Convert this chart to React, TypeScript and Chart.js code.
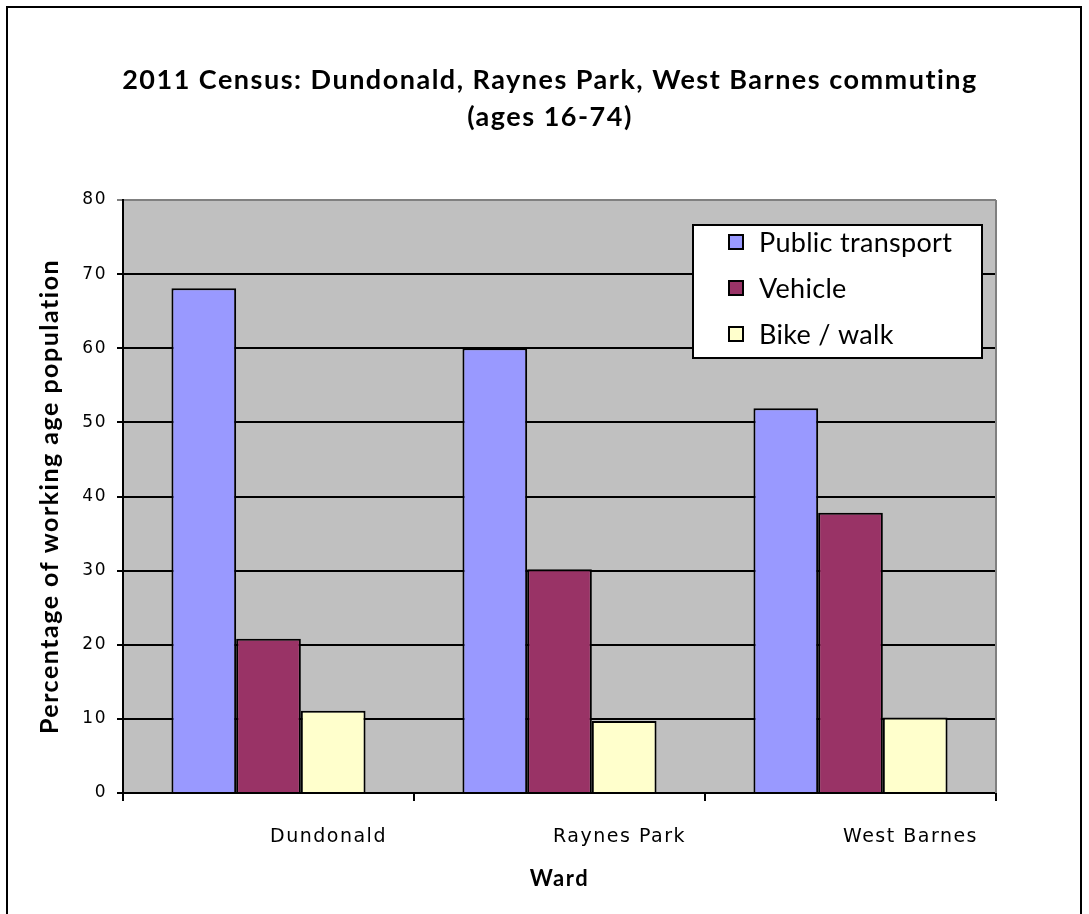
import React, { useEffect, useRef } from "react";
import { Chart, registerables } from "chart.js";

Chart.register(...registerables);

const titleLines = ["2011 Census: Dundonald, Raynes Park, West Barnes commuting", "(ages 16-74)"];
const categories = ["Dundonald", "Raynes Park", "West Barnes"];
const seriesNames = ["Public transport", "Vehicle", "Bike / walk"];
const publicTransport = [68.1, 60.0, 51.9];
const vehicle = [20.8, 30.2, 37.8];
const bikeWalk = [11.1, 9.7, 10.2];
const seriesColors = ["#9999FF", "#993366", "#FFFFCC"];
const yAxisTitle = "Percentage of working age population";
const xAxisTitle = "Ward";

const plotBg = {
  id: "plotBg",
  beforeDraw(chart: any) {
    const { ctx, chartArea } = chart;
    ctx.letterSpacing = "1.5px";
    ctx.save();
    ctx.fillStyle = "#C0C0C0";
    ctx.fillRect(chartArea.left, chartArea.top, chartArea.right - chartArea.left, chartArea.bottom - chartArea.top);
    ctx.restore();
  },
  beforeDatasetsDraw(chart: any) {
    const { ctx, chartArea } = chart;
    ctx.save();
    ctx.strokeStyle = "#808080";
    ctx.lineWidth = 2;
    ctx.beginPath();
    ctx.moveTo(chartArea.right, chartArea.top);
    ctx.lineTo(chartArea.right, chartArea.bottom);
    ctx.stroke();
    ctx.restore();
  },
};

const boxLegend = {
  id: "boxLegend",
  afterDatasetsDraw(chart: any) {
    const { ctx, chartArea } = chart;
    const left = chartArea.right - 303;
    const top = chartArea.top + 25;
    const w = 289;
    const h = 133;
    ctx.save();
    ctx.letterSpacing = "0.3px";
    ctx.fillStyle = "#FFFFFF";
    ctx.fillRect(left, top, w, h);
    ctx.strokeStyle = "#000";
    ctx.lineWidth = 2;
    ctx.strokeRect(left, top, w, h);
    chart.data.datasets.forEach((ds: any, i: number) => {
      const cy = top + 17 + i * 46;
      ctx.fillStyle = ds.backgroundColor;
      ctx.fillRect(left + 36, cy - 7, 14, 14);
      ctx.lineWidth = 2;
      ctx.strokeStyle = "#000";
      ctx.strokeRect(left + 36, cy - 7, 14, 14);
      ctx.fillStyle = "#000";
      ctx.font = "27px Lato";
      ctx.textBaseline = "middle";
      ctx.textAlign = "left";
      ctx.fillText(ds.label, left + 66, cy + 1);
    });
    ctx.restore();
  },
};

export default function App() {
  const ref = useRef<HTMLCanvasElement | null>(null);
  useEffect(() => {
    if (!ref.current) return;
    const values = [publicTransport, vehicle, bikeWalk];
    const chart = new Chart(ref.current, {
      type: "bar",
      data: {
        labels: categories,
        datasets: seriesNames.map((name, i) => ({
          label: name,
          data: values[i],
          backgroundColor: seriesColors[i],
          borderColor: "#000",
          borderWidth: 2,
          categoryPercentage: 0.667,
          barPercentage: 1.0,
        })),
      },
      options: {
        responsive: false,
        animation: false,
        devicePixelRatio: 1,
        layout: { padding: { left: 83, right: 72, top: 0, bottom: 10 } },
        plugins: {
          legend: { display: false },
          tooltip: { enabled: false },
          title: {
            display: true,
            text: titleLines,
            color: "#000",
            font: { family: "Lato", size: 27, weight: "bold", lineHeight: "37px" },
            padding: { top: 62, bottom: 64 },
          },
        },
        scales: {
          x: {
            offset: true,
            grid: { display: true, drawOnChartArea: false, drawTicks: true, tickLength: 8, color: "#000", lineWidth: 2, offset: true },
            border: { display: true, color: "#000", width: 2 },
            ticks: { color: "#000", font: { family: "DejaVu Sans", size: 19 }, padding: 25, labelOffset: 60, maxRotation: 0 },
            title: { display: true, text: xAxisTitle, color: "#000", font: { family: "Lato", size: 22, weight: "bold" }, padding: { top: 0, bottom: 12 } },
            afterFit(scale: any) {
              scale.height = 111;
            },
          },
          y: {
            min: 0,
            max: 80,
            grid: {
              color: (c: any) => (c.tick && c.tick.value === 80 ? "#808080" : "#000"),
              lineWidth: 2,
              tickLength: 6,
              drawTicks: true,
            },
            border: { display: true, color: "#000", width: 2 },
            ticks: { stepSize: 10, color: "#000", font: { family: "DejaVu Sans", size: 17 }, padding: 10 },
            title: { display: true, text: yAxisTitle, color: "#000", font: { family: "Lato", size: 25, weight: "bold" }, padding: { top: -48, bottom: 0 } },
            afterFit(scale: any) {
              scale.width = 40;
            },
          },
          ySpacer: {
            type: "linear",
            position: "right",
            display: true,
            min: 0,
            max: 80,
            grid: { display: false, drawOnChartArea: false },
            border: { display: false },
            ticks: { display: false },
            afterFit(scale: any) {
              scale.width = 21;
            },
          },
        },
      },
      plugins: [plotBg, boxLegend],
    });
    return () => chart.destroy();
  }, []);
  return (
    <div style={{ position: "absolute", left: 0, top: 0, width: 1089, height: 914, overflow: "hidden", background: "#fff" }}>
      <div
        style={{
          position: "absolute",
          left: 6,
          top: 6,
          width: 1072,
          height: 906,
          borderLeft: "2px solid #000",
          borderTop: "2px solid #000",
          borderRight: "2px solid #000",
        }}
      />
      <canvas ref={ref} width={1089} height={914} style={{ position: "absolute", left: 0, top: 0, display: "block" }} />
    </div>
  );
}
